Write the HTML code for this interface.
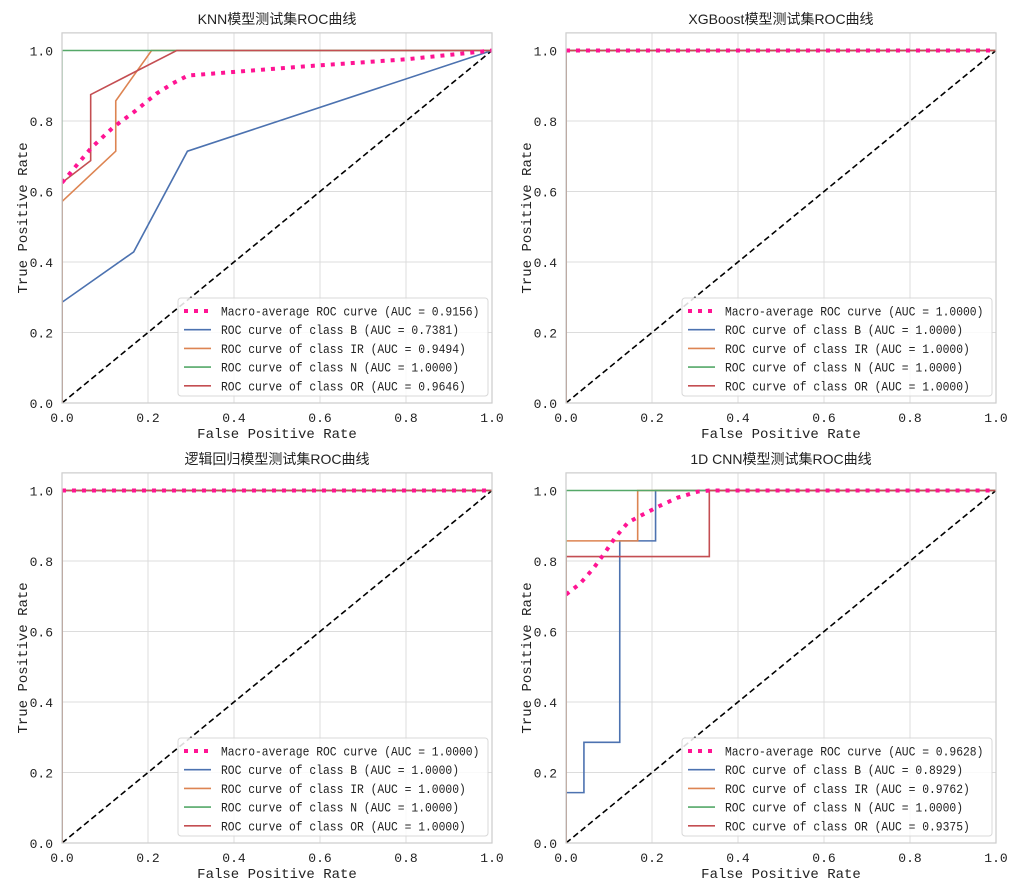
<!DOCTYPE html>
<html><head><meta charset="utf-8">
<style>
html,body{margin:0;padding:0;background:#fff;}
svg{display:block;}
text{font-family:"Liberation Mono","WenQuanYi Zen Hei","Noto Sans CJK SC",monospace;fill:#222;}
.tt{font-family:"Liberation Sans","WenQuanYi Zen Hei","Noto Sans CJK SC",sans-serif;}
</style></head>
<body>
<svg id="chart" width="1024" height="896" viewBox="0 0 1024 896"></svg>
<script>
// ---- data ----
const titles = ["KNN模型测试集ROC曲线","XGBoost模型测试集ROC曲线","逻辑回归模型测试集ROC曲线","1D CNN模型测试集ROC曲线"];
const classNames = ["B","IR","N","OR"];
const tickLabels = ["0.0","0.2","0.4","0.6","0.8","1.0"];
const tickValues = [0,0.2,0.4,0.6,0.8,1.0];
const aucMacro = ["0.9156","1.0000","1.0000","0.9628"];
const aucB = ["0.7381","1.0000","1.0000","0.8929"];
const aucIR = ["0.9494","1.0000","1.0000","0.9762"];
const aucN = ["1.0000","1.0000","1.0000","1.0000"];
const aucOR = ["0.9646","1.0000","1.0000","0.9375"];
// KNN
const knnMacroX = [0,0.069,0.119,0.170,0.22,0.258,0.293,0.565,0.8,1];
const knnMacroY = [0.625,0.725,0.782,0.828,0.878,0.907,0.929,0.955,0.975,1];
const knnBX = [0,0,0.1667,0.2917,1]; const knnBY = [0,0.2857,0.4286,0.7143,1];
const knnIRX = [0,0,0.125,0.125,0.2083,1]; const knnIRY = [0,0.5714,0.7143,0.8571,1,1];
const knnNX = [0,0,1]; const knnNY = [0,1,1];
const knnORX = [0,0,0.0667,0.0667,0.2667,1]; const knnORY = [0,0.625,0.6875,0.875,1,1];
// XGBoost
const xgbMacroX = [0,1]; const xgbMacroY = [1,1];
const xgbBX = [0,0,1]; const xgbBY = [0,1,1];
const xgbIRX = [0,0,1]; const xgbIRY = [0,1,1];
const xgbNX = [0,0,1]; const xgbNY = [0,1,1];
const xgbORX = [0,0,1]; const xgbORY = [0,1,1];
// Logistic
const lrMacroX = [0,1]; const lrMacroY = [1,1];
const lrBX = [0,0,1]; const lrBY = [0,1,1];
const lrIRX = [0,0,1]; const lrIRY = [0,1,1];
const lrNX = [0,0,1]; const lrNY = [0,1,1];
const lrORX = [0,0,1]; const lrORY = [0,1,1];
// 1D CNN
const cnnMacroX = [0,0.033,0.063,0.089,0.114,0.144,0.179,0.219,0.26,0.307,0.333,1];
const cnnMacroY = [0.705,0.736,0.778,0.821,0.866,0.909,0.932,0.957,0.980,0.997,1,1];
const cnnBX = [0,0,0.0417,0.0417,0.125,0.125,0.2083,0.2083,1]; const cnnBY = [0,0.1429,0.1429,0.2857,0.2857,0.8571,0.8571,1,1];
const cnnIRX = [0,0,0.1667,0.1667,1]; const cnnIRY = [0,0.8571,0.8571,1,1];
const cnnNX = [0,0,1]; const cnnNY = [0,1,1];
const cnnORX = [0,0,0.3333,0.3333,1]; const cnnORY = [0,0.8125,0.8125,1,1];

const panels = [
 {x0:62,y0:403,name:"knn",macro:[knnMacroX,knnMacroY],cls:[[knnBX,knnBY],[knnIRX,knnIRY],[knnNX,knnNY],[knnORX,knnORY]]},
 {x0:566,y0:403,name:"xgboost",macro:[xgbMacroX,xgbMacroY],cls:[[xgbBX,xgbBY],[xgbIRX,xgbIRY],[xgbNX,xgbNY],[xgbORX,xgbORY]]},
 {x0:62,y0:843,name:"logistic",macro:[lrMacroX,lrMacroY],cls:[[lrBX,lrBY],[lrIRX,lrIRY],[lrNX,lrNY],[lrORX,lrORY]]},
 {x0:566,y0:843,name:"cnn",macro:[cnnMacroX,cnnMacroY],cls:[[cnnBX,cnnBY],[cnnIRX,cnnIRY],[cnnNX,cnnNY],[cnnORX,cnnORY]]}
];
const colors = ["#4c72b0","#dd8452","#55a868","#c44e52"];
const W = 430, H = 352.5;
const svg = document.getElementById('chart');
const NS = "http://www.w3.org/2000/svg";
function mk(tag, attrs, parent){const e=document.createElementNS(NS,tag);for(const k in attrs)e.setAttribute(k,attrs[k]);(parent||svg).appendChild(e);return e;}
const defs = mk('defs',{});

panels.forEach((p,i)=>{
  const sx = v => p.x0 + v*W;
  const sy = v => p.y0 - v*H;
  const g = mk('g',{});
  
  
  const top = sy(1.05);
  const cp = mk('clipPath',{id:'clip'+i},defs);
  mk('rect',{x:p.x0+0.6,y:top,width:W,height:p.y0-top},cp);
  // grid
  tickValues.forEach((v,k)=>{
    const gx = mk('line',{x1:sx(v),x2:sx(v),y1:top,y2:p.y0,stroke:"#dcdcdc","stroke-width":1},g);
    
    
    const gy = mk('line',{x1:p.x0,x2:p.x0+W,y1:sy(v),y2:sy(v),stroke:"#dcdcdc","stroke-width":1},g);
    
    
    const xt = mk('text',{x:sx(v),y:p.y0+19,"text-anchor":"middle","font-size":13},g);
    xt.textContent = tickLabels[k];
    
    
    const yt = mk('text',{x:p.x0-9,y:sy(v)+5,"text-anchor":"end","font-size":13},g);
    yt.textContent = tickLabels[k];
    
    
  });
  const pg = mk('g',{"clip-path":`url(#clip${i})`},g);
  // diagonal
  const dg = mk('line',{x1:sx(0),y1:sy(0),x2:sx(1),y2:sy(1),stroke:"#000","stroke-width":1.6,"stroke-dasharray":"6,3.5"},pg);
  
  
  // class curves
  p.cls.forEach((c,j)=>{
    const pts = c[0].map((x,k)=>sx(x)+","+sy(c[1][k])).join(" ");
    const pl = mk('polyline',{points:pts,fill:"none",stroke:colors[j],"stroke-width":1.6},pg);
    
    
  });
  // macro
  const mpts = p.macro[0].map((x,k)=>sx(x)+","+sy(p.macro[1][k])).join(" ");
  const mp = mk('polyline',{points:mpts,fill:"none",stroke:"#ff1493","stroke-width":4,"stroke-dasharray":"4,6"},pg);
  
  
  const frame = mk('rect',{x:p.x0,y:top,width:W,height:p.y0-top,fill:"none",stroke:"#cccccc","stroke-width":1.2},g);
  
  
  // title & labels
  const t = mk('text',{x:p.x0+W/2,y:top-9,"text-anchor":"middle","font-size":14,class:"tt"},g);
  t.textContent = titles[i];
  
  
  const xl = mk('text',{x:p.x0+W/2,y:p.y0+35,"text-anchor":"middle","font-size":14},g);
  xl.textContent = "False Positive Rate";
  
  
  const cy = (top+p.y0)/2;
  const yl = mk('text',{x:p.x0-35,y:cy,"text-anchor":"middle","font-size":14,transform:`rotate(-90 ${p.x0-35} ${cy})`},g);
  yl.textContent = "True Positive Rate";
  
  
  // legend
  const lx = p.x0+116, ly = p.y0-105;
  const lg = mk('g',{},g);
  
  
  mk('rect',{x:lx,y:ly,width:310,height:98,rx:3,fill:"#fff","fill-opacity":0.85,stroke:"#d8d8d8"},lg);
  const labels = ["Macro-average ROC curve (AUC = "+aucMacro[i]+")",
    "ROC curve of class B (AUC = "+aucB[i]+")",
    "ROC curve of class IR (AUC = "+aucIR[i]+")",
    "ROC curve of class N (AUC = "+aucN[i]+")",
    "ROC curve of class OR (AUC = "+aucOR[i]+")"];
  labels.forEach((s,k)=>{
    const ry = ly+13+k*18.7;
    const col = k===0?"#ff1493":colors[k-1];
    mk('line',{x1:lx+6,x2:lx+33,y1:ry,y2:ry,stroke:col,"stroke-width":k===0?4:1.6,"stroke-dasharray":k===0?"4,6":"none"},lg);
    const tx = mk('text',{x:lx+43,y:ry+4.5,"font-size":12.5,textLength:s.length*6.8,lengthAdjust:"spacingAndGlyphs"},lg);
    tx.textContent = s;
    
    
  });
});
</script>
</body></html>
